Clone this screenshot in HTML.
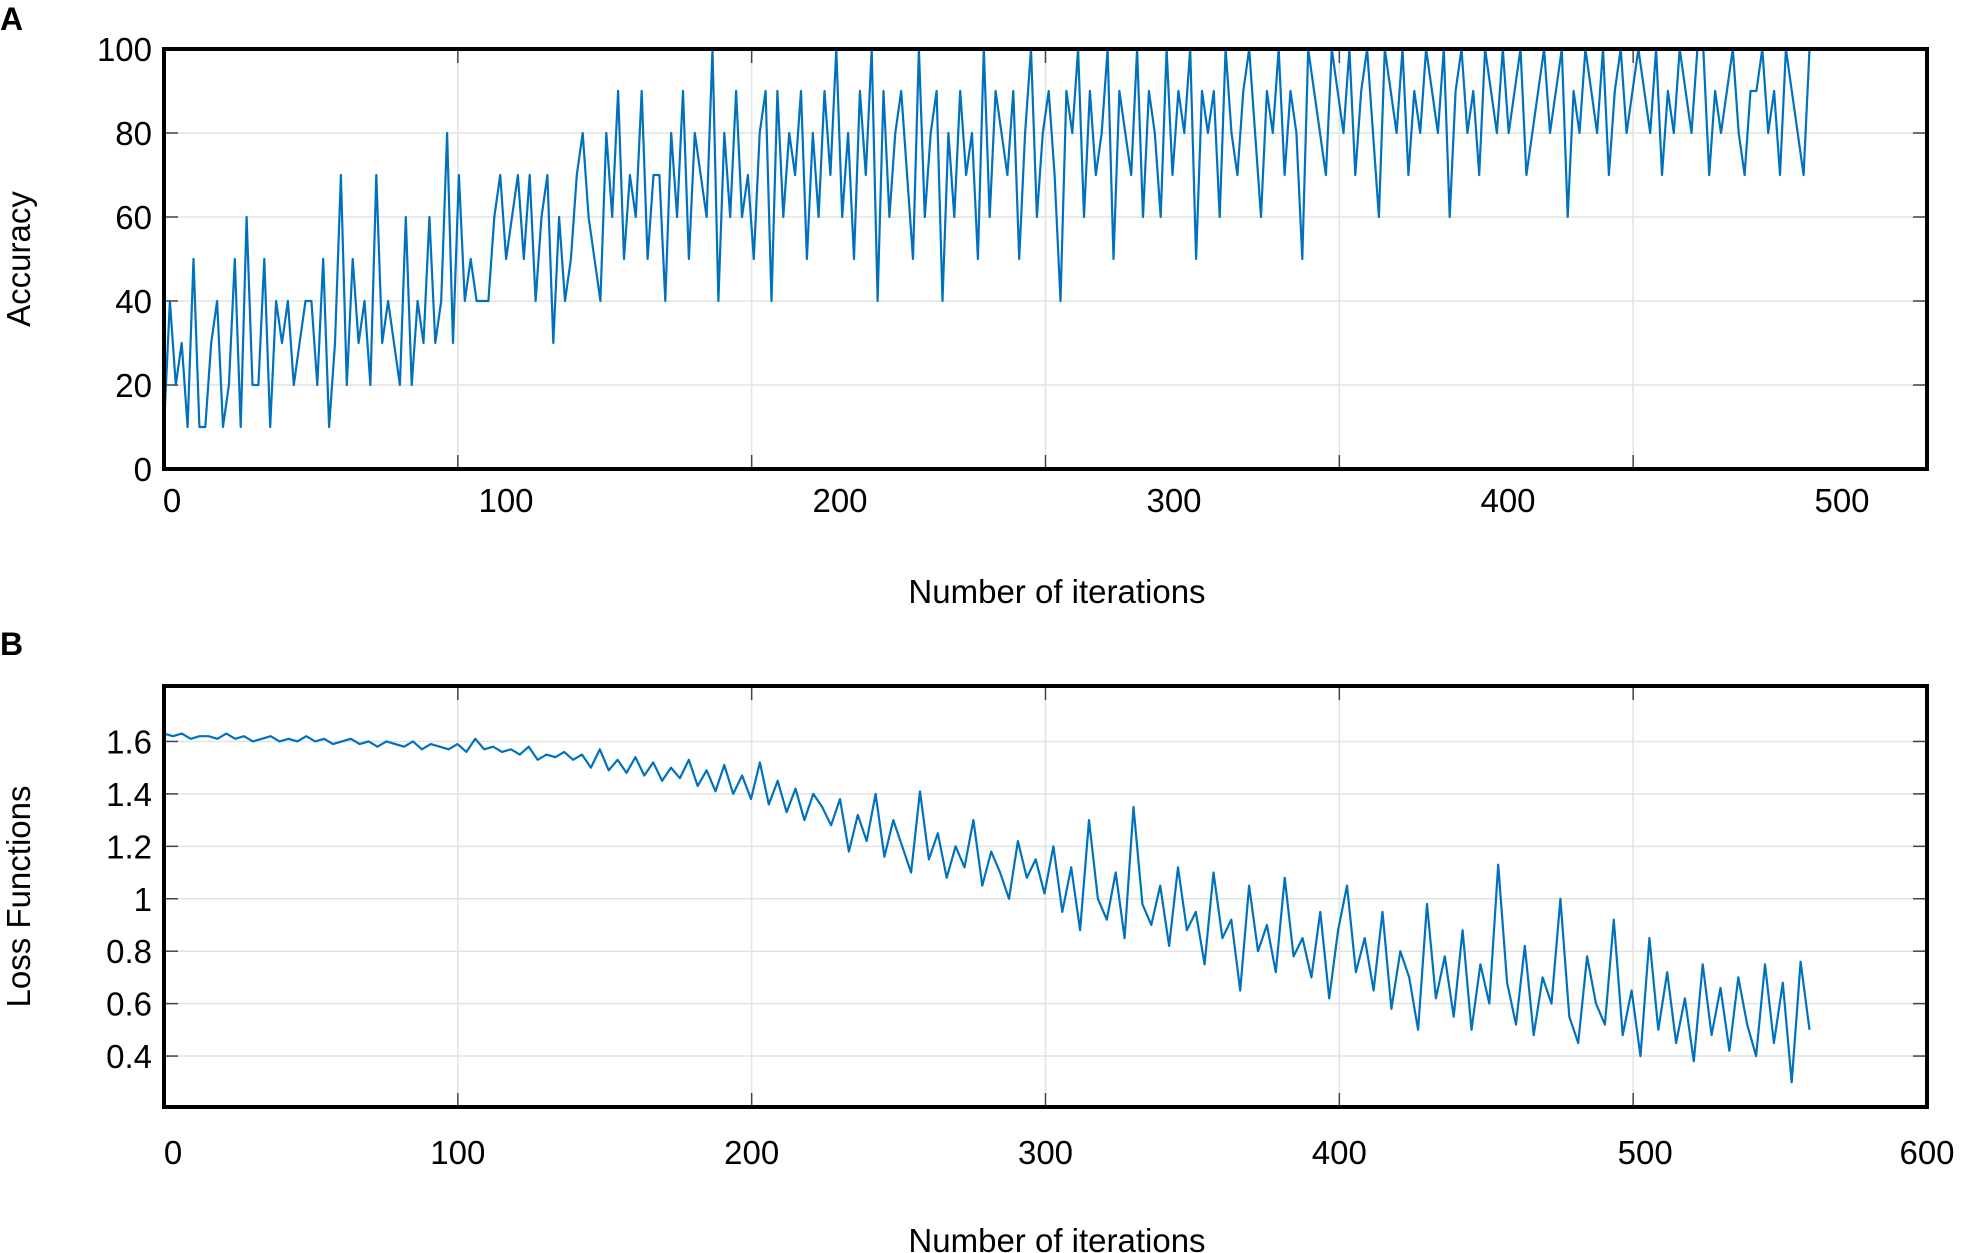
<!DOCTYPE html>
<html><head><meta charset="utf-8">
<style>
html,body{margin:0;padding:0;background:#fff;}
svg{display:block;}
text{font-family:"Liberation Sans",Arial,sans-serif;fill:#000;}
</style></head>
<body>
<svg id="fig" width="1965" height="1253" viewBox="0 0 1965 1253" xmlns="http://www.w3.org/2000/svg">
  <g id="gA"></g>
  <g id="gB"></g>
</svg>
<script>
const accValues=[10,40,20,30,10,50,10,10,30,40,10,20,50,10,60,20,20,50,10,40,30,40,20,30,40,40,20,50,10,30,70,20,50,30,40,20,70,30,40,30,20,60,20,40,30,
60,30,40,80,30,70,40,50,40,40,40,60,70,50,60,70,50,70,40,60,70,30,60,40,50,70,80,60,50,40,
80,60,90,50,70,60,90,50,70,70,40,80,60,90,50,80,70,60,100,40,80,60,90,60,70,50,80,90,40,90,60,80,70,90,50,80,60,90,70,100,60,80,50,90,70,100,40,90,60,80,
90,70,50,100,60,80,90,40,80,60,90,70,80,50,100,60,90,80,70,90,50,80,100,60,80,90,70,40,90,80,100,60,90,70,80,100,50,90,80,70,100,60,90,80,60,100,70,90,80,100,50,90,80,90,60,100,80,70,90,100,80,60,90,80,100,70,90,80,50,100,90,80,70,100,90,
80,100,70,90,100,80,60,100,90,80,100,70,90,80,100,90,80,100,60,90,100,80,90,70,100,90,80,100,80,90,100,70,80,90,100,80,90,100,60,90,80,100,90,80,100,70,90,100,80,90,100,90,80,100,70,90,80,100,90,80,100,100,70,90,80,90,100,80,70,90,90,100,80,90,70,100,90,80,70,100];
const lossValues=[1.63,1.62,1.63,1.61,1.62,1.62,1.61,1.63,1.61,1.62,1.60,1.61,1.62,1.60,1.61,1.60,1.62,1.60,1.61,1.59,1.60,1.61,1.59,1.60,1.58,1.60,1.59,1.58,1.60,1.57,1.59,1.58,1.57,1.59,
1.56,1.61,1.57,1.58,1.56,1.57,1.55,1.58,1.53,1.55,1.54,1.56,1.53,1.55,1.50,1.57,1.49,1.53,1.48,1.54,1.47,1.52,1.45,1.50,1.46,1.53,1.43,1.49,1.41,1.51,1.40,1.47,1.38,
1.52,1.36,1.45,1.33,1.42,1.30,1.40,1.35,1.28,1.38,1.18,1.32,1.22,1.40,1.16,1.30,1.20,1.10,1.41,1.15,1.25,1.08,1.20,1.12,1.30,1.05,1.18,1.10,1.00,1.22,1.08,1.15,1.02,
1.20,0.95,1.12,0.88,1.30,1.00,0.92,1.10,0.85,1.35,0.98,0.90,1.05,0.82,1.12,0.88,0.95,0.75,1.10,0.85,0.92,0.65,1.05,0.80,0.90,0.72,1.08,0.78,0.85,0.70,0.95,0.62,0.88,
1.05,0.72,0.85,0.65,0.95,0.58,0.80,0.70,0.50,0.98,0.62,0.78,0.55,0.88,0.50,0.75,0.60,1.13,0.68,0.52,0.82,0.48,0.70,0.60,1.00,0.55,0.45,0.78,0.60,0.52,0.92,0.48,0.65,
0.40,0.85,0.50,0.72,0.45,0.62,0.38,0.75,0.48,0.66,0.42,0.70,0.52,0.40,0.75,0.45,0.68,0.30,0.76,0.50];
const lastIteration=560;
const accYTicks=[0,20,40,60,80,100];
const accXTickLabels=["0","100","200","300","400","500"];
const lossYTicks=[0.4,0.6,0.8,1,1.2,1.4,1.6];
const lossXTicks=[0,100,200,300,400,500,600];
const gridX=[100,200,300,400,500];

const NS="http://www.w3.org/2000/svg";
function mk(parent,tag,attrs,txt){const e=document.createElementNS(NS,tag);for(const k in attrs)e.setAttribute(k,attrs[k]);if(txt!==undefined)e.textContent=txt;parent.appendChild(e);return e;}

function panel(g,box,yMin,yMax,values,yTicks,yFmt,xLabelFn,ylabel,letter,letterY,xtitleY){
  const sx=v=>box.l+(v/600)*(box.r-box.l);
  const sy=v=>box.b-(v-yMin)/(yMax-yMin)*(box.b-box.t);
  for(const gx of gridX){
    const l=mk(g,'line',{x1:sx(gx),x2:sx(gx),y1:box.t,y2:box.b,stroke:'#e3e3e3','stroke-width':1.5});
    
    
    mk(g,'line',{x1:sx(gx),x2:sx(gx),y1:box.b,y2:box.b-14,stroke:'#444','stroke-width':1.5});
    mk(g,'line',{x1:sx(gx),x2:sx(gx),y1:box.t,y2:box.t+14,stroke:'#444','stroke-width':1.5});
  }
  for(const t of yTicks){
    const y=sy(t);
    if(y>box.t+3&&y<box.b-3){
      const l=mk(g,'line',{x1:box.l,x2:box.r,y1:y,y2:y,stroke:'#e3e3e3','stroke-width':1.5});
      
      
      mk(g,'line',{x1:box.l,x2:box.l+14,y1:y,y2:y,stroke:'#444','stroke-width':1.5});
      mk(g,'line',{x1:box.r,x2:box.r-14,y1:y,y2:y,stroke:'#444','stroke-width':1.5});
    }
    const tx=mk(g,'text',{x:box.l-12,y:y+12,'font-size':33,'text-anchor':'end'},yFmt(t));
    
    
  }
  const n=values.length;
  let d='';
  values.forEach((v,i)=>{const x=sx(i*lastIteration/(n-1));d+=(i?'L':'M')+x.toFixed(1)+' '+sy(v).toFixed(1);});
  const p=mk(g,'path',{d:d,fill:'none',stroke:'#0072bd','stroke-width':2.2,'stroke-linejoin':'round'});
  
  
  const r=mk(g,'rect',{x:box.l,y:box.t,width:box.r-box.l,height:box.b-box.t,fill:'none',stroke:'#000','stroke-width':4});
  
  
  xLabelFn(g,box,sx);
  const xt=mk(g,'text',{x:1057,y:xtitleY,'font-size':33,'text-anchor':'middle'},'Number of iterations');
  
  
  const cy=(box.t+box.b)/2;
  const yt=mk(g,'text',{x:0,y:0,'font-size':33,'text-anchor':'middle',transform:`translate(30,${cy}) rotate(-90)`},ylabel);
  
  
  const lt=mk(g,'text',{x:0,y:letterY,'font-size':32,'font-weight':'bold'},letter);
  
  
}

panel(document.getElementById('gA'),{l:164,r:1927,t:49,b:469},0,100,accValues,accYTicks,v=>String(v),
 (g,box)=>{accXTickLabels.forEach((s,i)=>{const t=mk(g,'text',{x:172+i*334,y:512,'font-size':33,'text-anchor':'middle'},s);
   
   });},
 'Accuracy','A',30,603);

panel(document.getElementById('gB'),{l:164,r:1927,t:686,b:1107},0.2057,1.8115,lossValues,lossYTicks,v=>String(v),
 (g,box,sx)=>{lossXTicks.forEach(v=>{const t=mk(g,'text',{x:sx(v)+(v===0?9:(v===500?12:0)),y:1164,'font-size':33,'text-anchor':'middle'},String(v));
   
   });},
 'Loss Functions','B',655,1252);
</script>
</body></html>
